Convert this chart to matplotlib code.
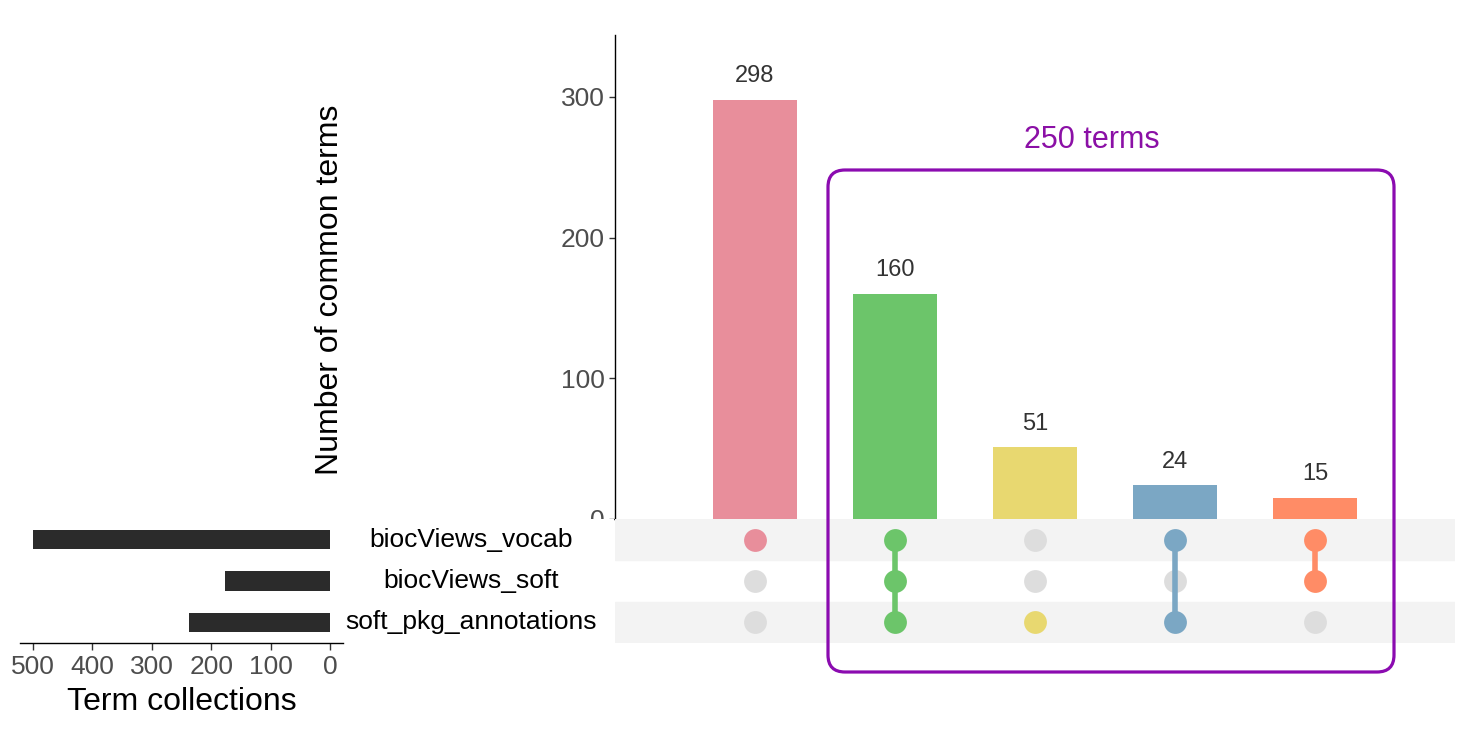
import matplotlib
matplotlib.use("Agg")
import matplotlib.pyplot as plt
from matplotlib.patches import FancyBboxPatch

plt.rcParams['font.family'] = ['Liberation Sans', 'DejaVu Sans']

# data
set_names = ["biocViews_vocab", "biocViews_soft", "soft_pkg_annotations"]
set_sizes = [500, 177, 237]
inter_counts = [298, 160, 51, 24, 15]
inter_members = [
    ["biocViews_vocab"],
    ["biocViews_vocab", "biocViews_soft", "soft_pkg_annotations"],
    ["soft_pkg_annotations"],
    ["biocViews_vocab", "soft_pkg_annotations"],
    ["biocViews_vocab", "biocViews_soft"],
]
inter_colors = ["#E88E9B", "#6CC56A", "#E8D870", "#7BA7C4", "#FF8C66"]
box_label = "250 terms"

W, H = 1474, 754


def px_axes(left, top, right, bottom):
    # pixel box -> figure fraction rect
    return [left / W, 1 - bottom / H, (right - left) / W, (bottom - top) / H]


fig = plt.figure(figsize=(W / 100, H / 100), dpi=100)

ax_bar = fig.add_axes(px_axes(615, 35, 1455, 519))
ax_mat = fig.add_axes(px_axes(615, 519, 1455, 643))
ax_set = fig.add_axes(px_axes(20, 519, 343, 643))
ax_lab = fig.add_axes(px_axes(345, 519, 614, 643))

xs = list(range(len(inter_counts)))
row_y = {name: len(set_names) - 1 - i for i, name in enumerate(set_names)}

# ---- intersection bars ----
ax_bar.bar(xs, inter_counts, width=0.6, color=inter_colors)
for x, v in zip(xs, inter_counts):
    ax_bar.annotate(str(v), (x, v), xytext=(0, 9), textcoords="offset points",
                    ha="center", va="bottom", fontsize=17, color="#333333")
ax_bar.set_xlim(-1, 5)
ax_bar.set_ylim(0, 344)
ax_bar.set_yticks([0, 100, 200, 300])
ax_bar.tick_params(axis="y", labelsize=19, labelcolor="#4D4D4D", color="#333333",
                   length=4, width=1)
ax_bar.set_xticks([])
for s in ["top", "right", "bottom"]:
    ax_bar.spines[s].set_visible(False)
ax_bar.spines["left"].set_linewidth(1)
fig.text(330 / W, 1 - 290 / H, "Number of common terms", rotation=90,
         ha="center", va="center", fontsize=23)

# ---- matrix ----
for name in set_names:
    if row_y[name] != 1:
        ax_mat.axhspan(row_y[name] - 0.5, row_y[name] + 0.5, color="#F3F3F3", zorder=0)
for x, members, col in zip(xs, inter_members, inter_colors):
    for name in set_names:
        if name not in members:
            ax_mat.scatter(x, row_y[name], s=270, color="#DDDDDD", zorder=2, linewidths=0)
    ys = [row_y[m] for m in members]
    if len(ys) > 1:
        ax_mat.plot([x, x], [min(ys), max(ys)], color=col, lw=4, zorder=3)
    ax_mat.scatter([x] * len(ys), ys, s=270, color=col, zorder=4, linewidths=0)
ax_mat.set_xlim(-1, 5)
ax_mat.set_ylim(-0.5, 2.5)
ax_mat.axis("off")

# ---- set sizes ----
ys_set = [row_y[n] for n in set_names]
ax_set.barh(ys_set, set_sizes, height=0.47, color="#2B2B2B")
ax_set.set_xlim(522, -22)
ax_set.set_ylim(-0.5, 2.5)
ax_set.set_xticks([500, 400, 300, 200, 100, 0])
ax_set.tick_params(axis="x", labelsize=19, labelcolor="#4D4D4D", color="#333333",
                   length=5, width=1)
ax_set.set_yticks([])
for s in ["top", "right", "left"]:
    ax_set.spines[s].set_visible(False)
ax_set.spines["bottom"].set_linewidth(1)
ax_set.set_xlabel("Term collections", fontsize=23, labelpad=6)

# ---- set names ----
for name in set_names:
    ax_lab.text(0.47, row_y[name], name, ha="center", va="center", fontsize=19)
ax_lab.set_xlim(0, 1)
ax_lab.set_ylim(-0.5, 2.5)
ax_lab.set_facecolor("white")
ax_lab.set_xticks([])
ax_lab.set_yticks([])
for s in ax_lab.spines.values():
    s.set_visible(False)

# ---- highlight box ----
box = FancyBboxPatch((828 / 100, (H - 672) / 100), 566 / 100, 502 / 100,
                     boxstyle="round,pad=0,rounding_size=0.17",
                     transform=fig.dpi_scale_trans, fill=False,
                     edgecolor="#8B0BB0", linewidth=2.3, zorder=10)
fig.patches.append(box)
fig.text(1092 / W, 1 - 140 / H, box_label, ha="center", va="center",
         fontsize=22, color="#8B10A6")

fig.savefig("out.png", dpi=100)
